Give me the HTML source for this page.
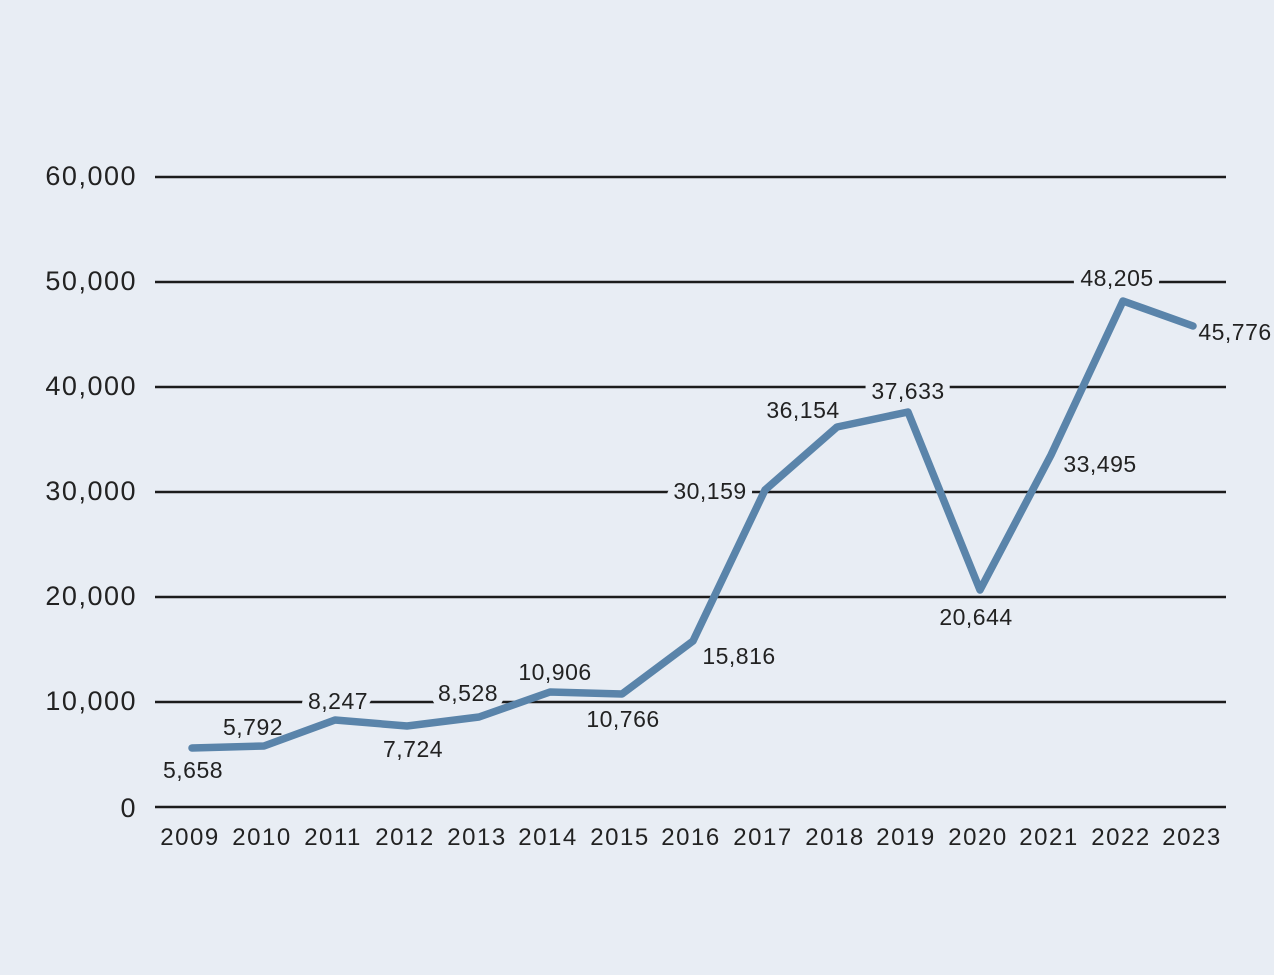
<!DOCTYPE html>
<html><head><style>
html,body{margin:0;padding:0;background:#e8edf4;}
svg{display:block;font-family:"Liberation Sans",sans-serif;}
</style></head><body>
<svg width="1274" height="975" viewBox="0 0 1274 975">
<rect width="1274" height="975" fill="#e8edf4"/>
<g stroke="#1c1c1c" stroke-width="2.5">
<line x1="155" y1="177" x2="1226" y2="177"/>
<line x1="155" y1="282" x2="1226" y2="282"/>
<line x1="155" y1="387" x2="1226" y2="387"/>
<line x1="155" y1="492" x2="1226" y2="492"/>
<line x1="155" y1="597" x2="1226" y2="597"/>
<line x1="155" y1="702" x2="1226" y2="702"/>
<line x1="155" y1="807" x2="1226" y2="807"/>
</g>
<g font-size="27" fill="#222" text-anchor="end" letter-spacing="1.5">
<text x="137" y="185">60,000</text>
<text x="137" y="290">50,000</text>
<text x="137" y="395">40,000</text>
<text x="137" y="500">30,000</text>
<text x="137" y="605">20,000</text>
<text x="137" y="710">10,000</text>
<text x="137" y="817">0</text>
</g>
<g font-size="24" fill="#222" text-anchor="middle" letter-spacing="1.5">
<text x="190" y="845">2009</text><text x="262" y="845">2010</text><text x="333" y="845">2011</text>
<text x="405" y="845">2012</text><text x="477" y="845">2013</text><text x="548" y="845">2014</text>
<text x="620" y="845">2015</text><text x="691" y="845">2016</text><text x="763" y="845">2017</text>
<text x="835" y="845">2018</text><text x="906" y="845">2019</text><text x="978" y="845">2020</text>
<text x="1049" y="845">2021</text><text x="1121" y="845">2022</text><text x="1192" y="845">2023</text>
</g>
<g font-size="23" fill="#222" text-anchor="middle" letter-spacing="0.5" stroke="#e8edf4" stroke-width="14" paint-order="stroke" stroke-linejoin="round">
<text x="193" y="778">5,658</text>
<text x="253" y="735">5,792</text>
<text x="338" y="709">8,247</text>
<text x="413" y="757">7,724</text>
<text x="468" y="701">8,528</text>
<text x="555" y="680">10,906</text>
<text x="623" y="727">10,766</text>
<text x="739" y="664">15,816</text>
<text x="710" y="499">30,159</text>
<text x="803" y="418">36,154</text>
<text x="908" y="399">37,633</text>
<text x="976" y="625">20,644</text>
<text x="1100" y="472">33,495</text>
<text x="1117" y="286">48,205</text>
<text x="1235" y="340">45,776</text>
</g>
<polyline fill="none" stroke="#5a84aa" stroke-width="7.5" stroke-linejoin="round" stroke-linecap="round"
points="192,748 264,746 335,720 407,726 479,717 550,692 622,694 693,641 765,490 837,427 908,412 980,590 1051,455 1123,301 1193,326"/>
</svg>
</body></html>
